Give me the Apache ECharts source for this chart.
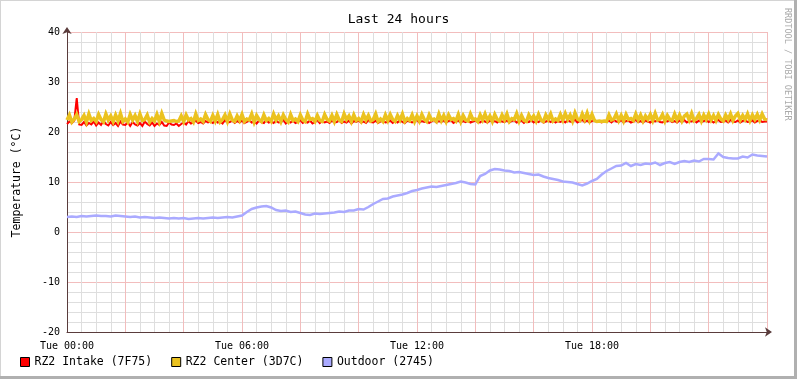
<!DOCTYPE html>
<html>
<head>
<meta charset="utf-8">
<script src="https://cdn.jsdelivr.net/npm/echarts@6/dist/echarts.min.js"></script>
<style>
html,body{margin:0;padding:0;background:#fff;}
#c{width:797px;height:379px;}
</style>
</head>
<body>
<div id="c"></div>
<script>
// ---- data, Tue 00:00 .. Wed 00:00 ----
const STEP_FINE = 1 / 12;   // 5-minute samples (indoor sensors)
const STEP_COARSE = 1 / 6;  // 10-minute samples (outdoor)
const seriesNames = ['RZ2 Intake (7F75)', 'RZ2 Center (3D7C)', 'Outdoor (2745)'];
const xTickLabels = ['Tue 00:00', 'Tue 06:00', 'Tue 12:00', 'Tue 18:00'];
const yTicks = [-20, -10, 0, 10, 20, 30, 40];

const intake = [
  21.6,22.1,21.8,22.3,26.8,21.5,21.4,22.0,21.3,21.8,21.5,22.1,
  21.3,21.9,21.4,22.2,21.6,21.3,22.0,21.4,21.8,21.2,22.1,21.5,
  21.4,21.9,21.2,22.0,21.5,21.3,21.8,21.2,22.1,21.6,21.3,21.9,
  21.2,21.7,21.4,22.0,21.3,21.2,21.9,21.5,21.4,21.7,21.2,21.6,
  21.9,21.5,22.2,21.7,21.9,22.3,21.8,22.0,21.7,22.2,21.9,22.1,
  21.8,22.3,21.9,22.1,21.7,22.4,21.9,22.0,22.3,21.8,22.2,21.9,
  22.3,21.8,22.0,22.4,21.9,22.1,21.7,22.3,22.0,21.8,22.4,21.9,
  22.1,21.8,22.3,21.9,22.0,22.4,21.7,22.2,21.9,22.3,21.8,22.0,
  22.4,21.8,22.1,21.9,22.3,21.7,22.0,22.4,21.8,22.2,21.9,22.1,
  21.8,22.3,21.9,22.0,22.4,21.8,22.1,21.9,22.3,21.7,22.2,22.0,
  22.3,21.9,22.1,21.8,22.4,22.0,21.9,22.3,21.8,22.1,22.4,21.9,
  22.0,22.3,21.8,22.2,21.9,22.4,22.0,21.8,22.3,22.1,21.9,22.2,
  22.4,21.9,22.2,22.0,22.3,21.8,22.1,22.4,21.9,22.2,22.0,22.3,
  21.9,22.2,22.4,21.8,22.1,22.3,21.9,22.2,22.0,22.4,21.9,22.1,
  22.3,22.0,21.9,22.4,22.1,21.9,22.3,22.0,22.2,21.9,22.4,22.1,
  22.0,22.3,21.9,22.2,22.4,21.9,22.1,22.3,21.8,22.2,22.0,22.4,
  21.9,22.2,22.0,22.4,21.9,22.1,22.3,22.0,22.4,21.9,22.2,22.0,
  22.3,21.9,22.4,22.1,22.0,22.5,21.9,22.2,22.4,22.0,22.3,21.9,
  22.2,22.4,22.0,22.1,21.9,22.2,22.0,22.3,21.9,22.4,22.1,22.0,
  22.4,21.9,22.2,22.3,21.9,22.1,22.4,22.0,22.2,21.9,22.3,22.1,
  21.9,22.3,22.1,22.4,22.0,21.9,22.3,22.1,22.4,22.0,22.2,21.9,
  22.3,22.0,22.4,21.9,22.2,22.1,22.4,21.9,22.3,22.0,22.2,22.4,
  22.0,22.3,21.9,22.2,22.4,22.0,22.1,22.3,21.9,22.4,22.1,22.0,
  22.3,21.9,22.2,22.4,22.0,22.1,22.3,21.9,22.2,22.4,22.0,22.1,
  22.1
];

const center = [
  22.4,23.4,22.0,22.6,23.5,22.1,22.5,23.3,22.0,23.6,22.3,22.7,
  22.1,23.5,22.5,22.0,23.6,22.4,23.2,22.1,23.4,22.2,23.7,22.1,
  22.6,22.0,23.5,22.4,23.3,22.1,23.6,22.3,22.5,23.4,22.0,22.7,
  22.2,23.5,22.1,23.7,22.4,22.2,22.1,22.2,22.3,22.1,22.2,23.2,
  22.1,23.4,22.4,22.7,22.0,23.6,22.3,22.6,22.1,23.5,22.5,22.1,
  23.3,22.2,23.5,22.0,22.5,23.4,22.1,23.6,22.4,22.1,23.2,22.3,
  23.5,22.1,22.6,22.4,23.6,22.0,23.3,22.5,22.1,23.4,22.3,22.7,
  22.1,23.6,22.4,23.2,22.1,23.4,22.5,22.0,23.5,22.3,22.6,22.1,
  23.4,22.4,22.1,23.6,22.5,22.7,22.1,23.3,22.3,22.1,23.5,22.5,
  22.2,23.3,22.1,23.5,22.4,22.1,23.6,22.5,23.2,22.1,23.4,22.3,
  22.7,22.1,23.5,22.4,23.3,22.2,22.5,23.6,22.1,22.6,22.1,23.4,
  22.3,23.5,22.5,22.1,23.3,22.4,23.6,22.1,22.7,22.3,23.4,22.1,
  23.2,22.2,23.5,22.5,22.1,23.4,22.4,22.6,22.1,23.6,22.3,23.3,
  22.1,23.4,22.5,22.7,22.2,23.5,22.1,23.3,22.4,22.2,23.6,22.5,
  22.6,22.1,23.4,22.4,23.6,22.3,23.2,22.1,23.5,22.5,22.2,23.4,
  22.4,23.6,22.1,22.7,22.5,23.7,22.2,23.3,22.3,22.1,23.4,22.5,
  23.2,22.2,23.5,22.4,22.1,23.4,22.5,23.6,22.2,22.6,22.3,23.5,
  22.4,23.7,22.5,23.4,22.2,23.8,22.6,22.3,23.6,22.5,23.8,22.3,
  23.5,22.3,22.1,22.2,22.1,22.2,22.1,23.4,22.4,22.6,23.6,22.3,
  23.3,22.2,23.5,22.5,22.7,22.3,23.6,22.4,23.4,22.2,23.2,22.5,
  23.5,22.3,23.7,22.4,22.6,23.5,22.2,23.3,22.5,22.3,23.6,22.4,
  23.4,22.2,23.2,23.6,22.4,23.7,22.3,22.7,23.5,22.2,23.4,22.5,
  23.6,22.4,23.3,22.3,23.5,22.6,22.2,23.4,22.5,23.6,22.3,23.2,
  23.7,22.4,23.3,22.5,23.6,22.3,23.4,22.5,23.5,22.4,23.6,22.6,
  22.4
];

const outdoor = [
  3.0, 3.1, 3.0, 3.2, 3.1, 3.2,
  3.3, 3.2, 3.2, 3.1, 3.3, 3.2,
  3.1, 3.0, 3.1, 2.9, 3.0, 2.9,
  2.8, 2.9, 2.8, 2.7, 2.8, 2.7,
  2.8, 2.6, 2.7, 2.8, 2.7, 2.8,
  2.9, 2.8, 2.9, 3.0, 2.9, 3.1,
  3.3, 4.0, 4.6, 4.9, 5.1, 5.2,
  4.9, 4.4, 4.2, 4.3, 4.0, 4.1,
  3.8, 3.5, 3.4, 3.7, 3.6, 3.7,
  3.8, 3.9, 4.1, 4.0, 4.3, 4.3,
  4.6, 4.5, 5.0, 5.6, 6.1, 6.6,
  6.7, 7.1, 7.3, 7.5, 7.8, 8.2,
  8.4, 8.7, 8.9, 9.1, 9.0, 9.2,
  9.4, 9.6, 9.8, 10.1, 9.9, 9.6,
  9.5, 11.2, 11.6, 12.3, 12.6, 12.5,
  12.3, 12.2, 11.9, 12.0, 11.8, 11.6,
  11.4, 11.5, 11.1, 10.8, 10.6, 10.4,
  10.1, 10.0, 9.9, 9.6, 9.3, 9.7,
  10.2, 10.6, 11.5, 12.2, 12.7, 13.2,
  13.3, 13.8, 13.2, 13.6, 13.4, 13.7,
  13.6, 13.9, 13.4, 13.8, 14.0, 13.6,
  14.0, 14.2, 14.0, 14.3, 14.1, 14.6,
  14.6, 14.5, 15.7, 15.0, 14.8, 14.7,
  14.7, 15.1, 14.9, 15.5, 15.3, 15.2,
  15.1
];

// ---- build ----
function toPairs(arr, step) { return arr.map((v, i) => [i * step, v]); }
const FONT = 'DejaVu Sans Mono';
const colors = ['#FF0000', '#EBC21F', '#AAAAFF'];
const widths = [2, 3.5, 2.5];
const values = [intake, center, outdoor];
const steps = [STEP_FINE, STEP_FINE, STEP_COARSE];

const chart = echarts.init(document.getElementById('c'), null, { renderer: 'canvas' });
chart.setOption({
  animation: false,
  backgroundColor: '#ffffff',
  title: {
    text: 'Last 24 hours', left: 'center', top: 8,
    textStyle: { fontFamily: FONT, fontSize: 13, fontWeight: 'normal', color: '#000' }
  },
  legend: {
    left: 15, top: 351, icon: 'rect', itemWidth: 9, itemHeight: 9, itemGap: 19,
    itemStyle: { borderColor: '#000', borderWidth: 1 },
    textStyle: { fontFamily: FONT, fontSize: 11.5, color: '#000' },
    data: seriesNames
  },
  grid: { left: 67, right: 30, top: 32, bottom: 47, containLabel: false },
  xAxis: {
    type: 'value', min: 0, max: 24, interval: 2,
    axisLine: { show: true, onZero: false, lineStyle: { color: '#5a3c3c', width: 1 },
      symbol: ['none', 'arrow'], symbolSize: [7, 7], symbolOffset: [0, 5] },
    axisTick: { show: false },
    axisLabel: {
      fontFamily: FONT, fontSize: 10, color: '#000', margin: 9,
      formatter: v => (v % 6 === 0 && v < 24) ? xTickLabels[v / 6] : ''
    },
    splitLine: { show: true, lineStyle: { color: '#F2BDBD', width: 1 } },
    minorTick: { show: false, splitNumber: 4 },
    minorSplitLine: { show: true, lineStyle: { color: '#DEDEDE', width: 1 } }
  },
  yAxis: {
    type: 'value', min: yTicks[0], max: yTicks[yTicks.length - 1], interval: 10,
    name: 'Temperature (°C)', nameLocation: 'middle', nameGap: 44, nameRotate: 90,
    nameTextStyle: { fontFamily: FONT, fontSize: 11.5, color: '#000' },
    axisLine: { show: true, lineStyle: { color: '#5a3c3c', width: 1 },
      symbol: ['none', 'arrow'], symbolSize: [7, 7], symbolOffset: [0, 5] },
    axisTick: { show: false },
    axisLabel: { fontFamily: FONT, fontSize: 10, color: '#000', margin: 7 },
    splitLine: { show: true, lineStyle: { color: '#F2BDBD', width: 1 } },
    minorTick: { show: false, splitNumber: 5 },
    minorSplitLine: { show: true, lineStyle: { color: '#DEDEDE', width: 1 } }
  },
  series: seriesNames.map((name, k) => ({
    name, type: 'line', data: toPairs(values[k], steps[k]),
    showSymbol: false, symbol: 'none',
    lineStyle: { color: colors[k], width: widths[k], join: 'miter' },
    itemStyle: { color: colors[k] },
    z: 2 + k
  })),
  graphic: [
    { type: 'rect', shape: { x: 0, y: 0, width: 797, height: 1 }, style: { fill: '#d4d4d4' }, silent: true },
    { type: 'rect', shape: { x: 0, y: 0, width: 1, height: 379 }, style: { fill: '#d4d4d4' }, silent: true },
    { type: 'rect', shape: { x: 794, y: 0, width: 3, height: 379 }, style: { fill: '#b0b0b0' }, silent: true },
    { type: 'rect', shape: { x: 0, y: 376, width: 797, height: 3 }, style: { fill: '#b0b0b0' }, silent: true },
    { type: 'text', x: 783, y: 8, rotation: -Math.PI / 2,
      style: { text: 'RRDTOOL / TOBI OETIKER', fontFamily: FONT, fontSize: 8.5, fill: '#aaaaaa',
        textAlign: 'left', textVerticalAlign: 'bottom' }, silent: true }
  ]
});
</script>
</body>
</html>
